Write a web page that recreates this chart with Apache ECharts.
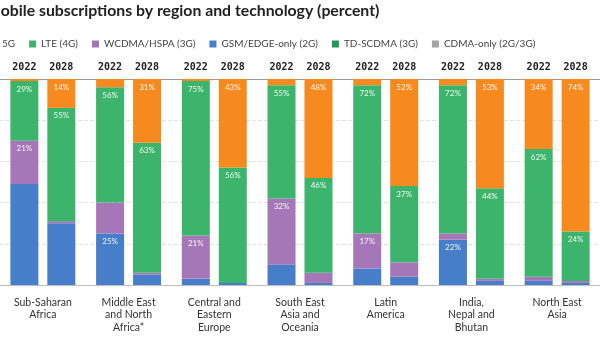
<!DOCTYPE html>
<html><head><meta charset="utf-8">
<script src="https://cdn.jsdelivr.net/npm/echarts@6/dist/echarts.min.js"></script>
<style>html,body{margin:0;padding:0;background:#fff}#c{width:600px;height:337px}</style>
</head><body><div id="c"></div>
<script>
// ---- data ----
const regions = ['Sub-Saharan\nAfrica','Middle East\nand North\nAfrica*','Central and\nEastern\nEurope','South East\nAsia and\nOceania','Latin\nAmerica','India,\nNepal and\nBhutan','North East\nAsia'];
const years = ['2022','2028'];
const techs = ['5G','LTE (4G)','WCDMA/HSPA (3G)','GSM/EDGE-only (2G)','TD-SCDMA (3G)','CDMA-only (2G/3G)'];

const g5_2022    = [1, 4, 1, 3, 3, 3, 34];
const lte_2022   = [29, 56, 75, 55, 72, 72, 62];
const wcdma_2022 = [21, 15, 21, 32, 17, 3, 2];
const gsm_2022   = [49, 25, 3, 10, 8, 22, 2];
const td_2022    = [0, 0, 0, 0, 0, 0, 0];
const cdma_2022  = [0, 0, 0, 0, 0, 0, 0];

const g5_2028    = [14, 31, 43, 48, 52, 53, 74];
const lte_2028   = [55, 63, 56, 46, 37, 44, 24];
const wcdma_2028 = [1, 1, 0, 5, 7, 1, 1];
const gsm_2028   = [30, 5, 1, 1, 4, 2, 1];
const td_2028    = [0, 0, 0, 0, 0, 0, 0];
const cdma_2028  = [0, 0, 0, 0, 0, 0, 0];

// which segments carry a printed percentage
const lbl_g5_2022    = [0,0,0,0,0,0,1];
const lbl_lte_2022   = [1,1,1,1,1,1,1];
const lbl_wcdma_2022 = [1,0,1,1,1,0,0];
const lbl_gsm_2022   = [0,1,0,0,0,1,0];
const lbl_g5_2028    = [1,1,1,1,1,1,1];
const lbl_lte_2028   = [1,1,1,1,1,1,1];
const none = [0,0,0,0,0,0,0];

const colors = {
  '5G':'#F78A1E','LTE (4G)':'#3DB46C','WCDMA/HSPA (3G)':'#A677B8',
  'GSM/EDGE-only (2G)':'#467EC9','TD-SCDMA (3G)':'#1F9A57','CDMA-only (2G/3G)':'#A3A3A3'
};

function seg(name, stack, vals, flags){
  return {
    name, type:'bar', stack, barWidth:28, barGap:'32%',
    itemStyle:{color:colors[name]},
    label:{show:false, position:'insideTop', distance:4, color:'rgba(255,255,255,0.92)',
           fontFamily:'Lato', fontSize:8, formatter:p=>p.value+'%'},
    data: vals.map((v,i)=>({value:v, label:{show:!!flags[i]}})),
    animation:false
  };
}
function yearLabel(stack, yr){
  return {
    name:'yr'+yr, type:'bar', stack, barWidth:28, barGap:'32%', silent:true,
    itemStyle:{color:'rgba(0,0,0,0)'},
    label:{show:true, position:'top', distance:7, formatter:yr, color:'#222',
           fontFamily:'DejaVu Sans Mono', fontWeight:'bold', fontSize:10},
    data: regions.map(()=>0), animation:false
  };
}

const series = [];
[['2022',[gsm_2022,cdma_2022,wcdma_2022,td_2022,lte_2022,g5_2022],[lbl_gsm_2022,none,lbl_wcdma_2022,none,lbl_lte_2022,lbl_g5_2022]],
 ['2028',[gsm_2028,cdma_2028,wcdma_2028,td_2028,lte_2028,g5_2028],[none,none,none,none,lbl_lte_2028,lbl_g5_2028]]
].forEach(([yr, arrs, flags])=>{
  const names = ['GSM/EDGE-only (2G)','CDMA-only (2G/3G)','WCDMA/HSPA (3G)','TD-SCDMA (3G)','LTE (4G)','5G'];
  names.forEach((n,k)=>series.push(seg(n, 's'+yr, arrs[k], flags[k])));
  series.push(yearLabel('s'+yr, yr));
});

const chart = echarts.init(document.getElementById('c'), null, {renderer:'canvas'});
chart.setOption({
  animation:false,
  backgroundColor:'#fff',
  title:{text:'Mobile subscriptions by region and technology (percent)', left:-14, top:3, padding:0,
    textStyle:{fontFamily:'Lato', fontWeight:'bold', fontSize:15.8, color:'#222'}},
  legend:{data:techs, left:-10, top:39, padding:0, itemWidth:7, itemHeight:7, itemGap:14,
    icon:'rect', textStyle:{fontFamily:'Lato', fontSize:10, color:'#444'}},
  grid:{left:-14, right:-4, top:79, bottom:52},
  xAxis:[
    {type:'category', data:regions, axisTick:{show:false},
     axisLine:{lineStyle:{color:'#bdbdbd'}},
     axisLabel:{fontFamily:'Lato', fontSize:10.5, color:'#333', lineHeight:12.5, margin:11, interval:0}},
    {type:'category', data:regions, position:'top', axisTick:{show:false}, axisLabel:{show:false},
     axisLine:{lineStyle:{color:'#9a9a9a'}}}
  ],
  yAxis:{type:'value', min:0, max:100, interval:20, axisLabel:{show:false}, axisLine:{show:false}, axisTick:{show:false},
    splitLine:{lineStyle:{color:'#e2e2e2', type:'dashed'}}},
  series
});
</script></body></html>
